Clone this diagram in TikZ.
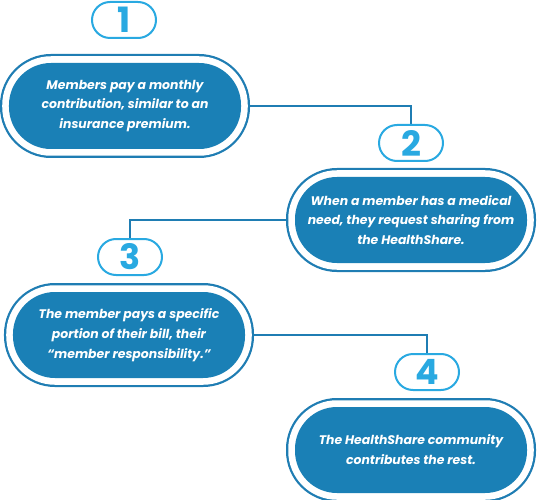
\documentclass[tikz,border=0pt]{standalone}
\usepackage{fontspec}
\setmainfont{Poppins}
\usetikzlibrary{backgrounds}
\definecolor{stepblue}{HTML}{1A80B6}
\definecolor{ringblue}{HTML}{1F7DB3}
\definecolor{numblue}{HTML}{29A9E1}
\begin{document}
\begin{tikzpicture}[x=1bp,y=-1bp]
\tikzset{
  stepbox/.style={shape=rectangle,rounded corners=42bp,minimum width=232bp,minimum height=86bp,
    fill=stepblue,text=white,align=center,inner sep=0pt,
    font=\fontsize{12.5}{20}\selectfont\bfseries\itshape,
    preaction={draw=ringblue,line width=18bp},
    preaction={draw=white,line width=13.5bp}},
  badge/.style={draw=numblue,line width=2bp,fill=white,shape=rectangle,rounded corners=18bp,
    minimum width=64bp,minimum height=36bp,inner sep=0pt,text=numblue,
    font=\fontsize{35}{35}\selectfont\bfseries},
  link/.style={draw=ringblue,line width=2bp}
}
\useasboundingbox (0,0) rectangle (538,500);
\node[badge] (badge1) at (124,20) {1};
\node[stepbox] (box1) at (125,106) {Members pay a monthly\\contribution, similar to an\\insurance premium.};
\node[badge] (badge2) at (411,143) {2};
\node[stepbox] (box2) at (411,220) {When a member has a medical\\need, they request sharing from\\the HealthShare.};
\node[badge] (badge3) at (130,257) {3};
\node[stepbox] (box3) at (129,335) {The member pays a specific\\portion of their bill, their\\“member responsibility.”};
\node[badge] (badge4) at (427,372) {4};
\node[stepbox] (box4) at (411,450) {The HealthShare community\\contributes the rest.};
\begin{scope}[on background layer]
\draw[link] (box1.east) -| (badge2.north);
\draw[link] (box2.west) -| (badge3.north);
\draw[link] (box3.east) -| (badge4.north);
\end{scope}
\end{tikzpicture}
\end{document}
